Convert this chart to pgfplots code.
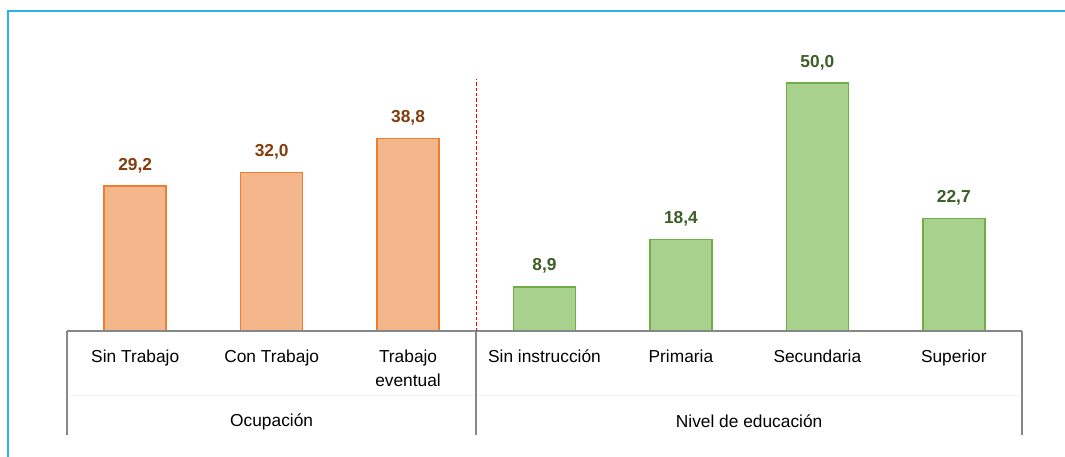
\documentclass[border=0pt]{standalone}
\usepackage{pgfplots}
\pgfplotsset{compat=1.18}
\usepackage{fontspec}
\setmainfont{Liberation Sans}
\definecolor{orfill}{HTML}{F4B68B}
\definecolor{oredge}{HTML}{ED7D31}
\definecolor{ortext}{HTML}{843C0C}
\definecolor{grfill}{HTML}{A9D18E}
\definecolor{gredge}{HTML}{70AD47}
\definecolor{grtext}{HTML}{3B5E25}
\definecolor{frame}{HTML}{29B3E6}
\definecolor{sep}{HTML}{878787}
\begin{document}
\begin{tikzpicture}
\useasboundingbox (-50.25pt,-94.5pt) rectangle (748.5pt,248.25pt);
\begin{axis}[
  width=716.25pt, height=240pt, scale only axis,
  xmin=-0.5, xmax=6.5, ymin=0, ymax=64.5,
  axis line style={draw=none}, tick style={draw=none},
  ytick=\empty,
  xtick={0,1,2,3,4,5,6},
  xticklabels={\strut Sin Trabajo,\strut Con Trabajo,\strut Trabajo\\eventual,\strut Sin instrucción,\strut Primaria,\strut Secundaria,\strut Superior},
  xticklabel style={font=\fontsize{13}{18}\selectfont, align=center, anchor=north, yshift=-3.5pt},
  ybar, bar width=46.5pt,
  clip=false,
  nodes near coords={\pgfmathprintnumber[assume math mode=true,fixed,fixed zerofill,precision=1,use comma]{\pgfplotspointmeta}},
  every node near coord/.append style={font=\fontsize{13}{15}\selectfont\bfseries, anchor=south, yshift=6pt},
]
\addplot[bar shift=0pt, fill=orfill, draw=oredge, line width=1.1pt, every node near coord/.append style={text=ortext}]
  coordinates {(0,29.2) (1,32.0) (2,38.8)};
\addplot[bar shift=0pt, fill=grfill, draw=gredge, line width=1.1pt, every node near coord/.append style={text=grtext}]
  coordinates {(3,8.9) (4,18.4) (5,50.0) (6,22.7)};
\draw[sep!8, line width=0.6pt] ([yshift=-48pt]axis cs:-0.5,0) -- ([yshift=-48pt]axis cs:6.5,0);
\draw[sep, line width=1.3pt] (axis cs:-0.5,0) -- (axis cs:6.5,0);
\draw[sep, line width=1.3pt] (axis cs:-0.5,0) -- ([yshift=-78pt]axis cs:-0.5,0);
\draw[sep, line width=1.3pt] (axis cs:2.5,0) -- ([yshift=-78pt]axis cs:2.5,0);
\draw[sep, line width=1.3pt] (axis cs:6.5,0) -- ([yshift=-78pt]axis cs:6.5,0);
\draw[red, line width=0.8pt, dash pattern=on 2.5pt off 1.5pt] (axis cs:2.5,0) -- ([yshift=189pt]axis cs:2.5,0);
\node[font=\fontsize{13}{15}\selectfont] at ([yshift=-68pt]axis cs:1,0) {Ocupación};
\node[font=\fontsize{13}{15}\selectfont] at ([yshift=-68pt]axis cs:4.5,0) {Nivel de educación};
\end{axis}
\draw[frame, line width=1.3pt] (-44.25pt,-94.5pt) -- (-44.25pt,240pt) -- (748.5pt,240pt);
\end{tikzpicture}
\end{document}
